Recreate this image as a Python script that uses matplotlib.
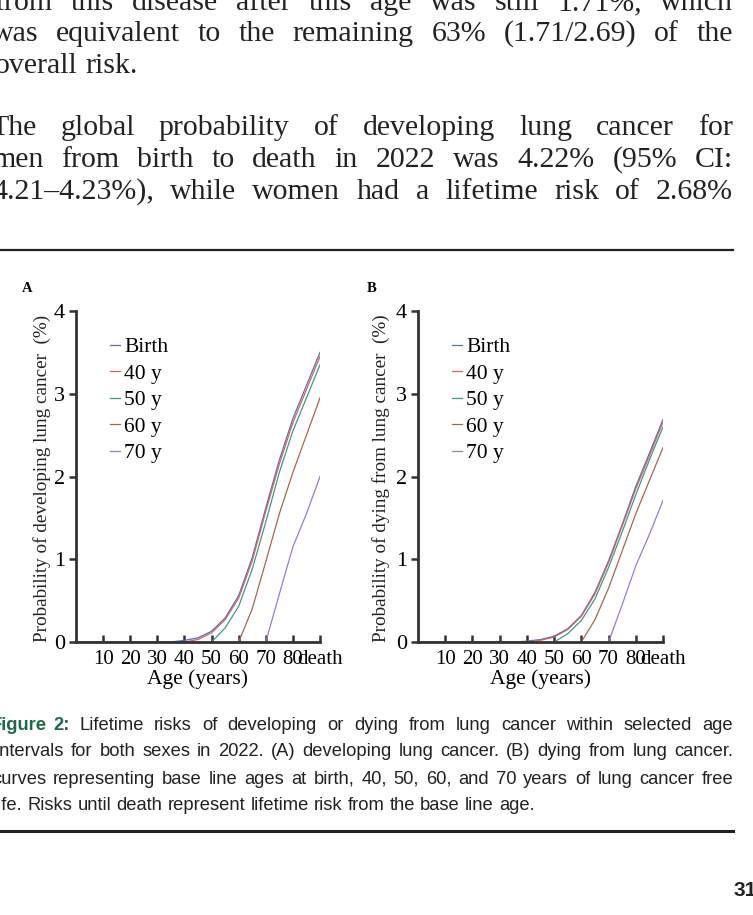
import matplotlib
matplotlib.use("Agg")
import matplotlib.pyplot as plt
from matplotlib.lines import Line2D
from matplotlib.transforms import ScaledTranslation

W, H = 753, 915
ages = [0, 10, 20, 30, 35, 40, 45, 50, 55, 60, 65, 70, 75, 80, 85, 90]
xtick_pos = [10, 20, 30, 40, 50, 60, 70, 80, 90]
xtick_labels = ["10", "20", "30", "40", "50", "60", "70", "80", "death"]
series_names = ["Birth", "40 y", "50 y", "60 y", "70 y"]
colors = ["#5b6fa8", "#d0646a", "#3f9a84", "#a8684a", "#9b7cc8"]
start_ages = [0, 40, 50, 60, 70]

dev_birth = [0, 0, 0, 0, 0.0, 0.02, 0.05, 0.13, 0.29, 0.56, 1.02, 1.62, 2.2, 2.7, 3.1, 3.5]
dev_40 = [0.0, 0.03, 0.11, 0.27, 0.53, 0.98, 1.58, 2.15, 2.65, 3.05, 3.45]
dev_50 = [0.0, 0.17, 0.43, 0.88, 1.45, 2.05, 2.55, 2.95, 3.35]
dev_60 = [0.0, 0.4, 0.97, 1.55, 2.05, 2.5, 2.95]
dev_70 = [0.0, 0.58, 1.15, 1.55, 2.0]
die_birth = [0, 0, 0, 0, 0.0, 0.01, 0.03, 0.07, 0.16, 0.32, 0.6, 0.98, 1.42, 1.88, 2.28, 2.69]
die_40 = [0.0, 0.02, 0.06, 0.15, 0.31, 0.58, 0.96, 1.4, 1.85, 2.25, 2.66]
die_50 = [0.0, 0.1, 0.26, 0.52, 0.9, 1.33, 1.78, 2.2, 2.6]
die_60 = [0.0, 0.27, 0.65, 1.1, 1.55, 1.95, 2.35]
die_70 = [0.0, 0.45, 0.92, 1.3, 1.71]

body_lines = [
    ("from this disease after this age was still 1.71%, which", -6, 3, True),
    ("was equivalent to the remaining 63% (1.71/2.69) of the", -8, 34, True),
    ("overall risk.", -5, 66, False),
    ("The global probability of developing lung cancer for", -10, 128, True),
    ("men from birth to death in 2022 was 4.22% (95% CI:", -8, 160, True),
    ("4.21\u20134.23%), while women had a lifetime risk of 2.68%", -8, 192, True),
]
caption_lines = [
    ("Figure 2: Lifetime risks of developing or dying from lung cancer within selected age", -9, 725, True),
    ("intervals for both sexes in 2022. (A) developing lung cancer. (B) dying from lung cancer.", -4, 752, True),
    ("curves representing base line ages at birth, 40, 50, 60, and 70 years of lung cancer free", -8, 779, True),
    ("life. Risks until death represent lifetime risk from the base line age.", -6, 806, False),
]

fig = plt.figure(figsize=(W / 100, H / 100), dpi=100)
fig.canvas.draw()
renderer = fig.canvas.get_renderer()
RIGHT = 733

def justify(text, x0, y, justify_on, **kw):
    words = text.split(" ")
    artists = [fig.text(0, 1 - y / H, w, va="center", ha="left", **kw) for w in words]
    widths = [a.get_window_extent(renderer).width for a in artists]
    t1 = fig.text(0, 0, "a a", **kw)
    t2 = fig.text(0, 0, "aa", **kw)
    sw = t1.get_window_extent(renderer).width - t2.get_window_extent(renderer).width
    t1.remove(); t2.remove()
    if justify_on and len(words) > 1:
        gap = (RIGHT - x0 - sum(widths)) / (len(words) - 1)
    else:
        gap = sw
    x = x0
    for a, w in zip(artists, widths):
        a.set_x(x / W)
        x += w + gap
    return artists

for txt, x0, y, j in body_lines:
    justify(txt, x0, y, j, family="Liberation Serif", fontsize=21.5, color="#222222")

cap_kw = dict(family=["Liberation Sans Narrow", "Liberation Sans", "DejaVu Sans"], fontsize=13.2, color="#222222")
for i, (txt, x0, y, j) in enumerate(caption_lines):
    arts = justify(txt, x0, y, j, **cap_kw)
    if i == 0:
        for a in arts[:2]:
            a.set_color("#1b6b48")
            a.set_fontweight("bold")

fig.add_artist(Line2D([0, RIGHT / W], [1 - 250 / H] * 2, color="#222222", lw=1.6))
fig.add_artist(Line2D([0, RIGHT / W], [1 - 831 / H] * 2, color="#222222", lw=2.2))
fig.text(733 / W, 1 - 890 / H, "310", family=["Liberation Sans Narrow", "Liberation Sans"],
         fontsize=15, fontweight="bold", va="center", ha="left", color="#222222")

def make_ax(left, right, letter, lx, ylabel, ylx, data):
    top, bottom = 311, 642
    ax = fig.add_axes([left / W, 1 - bottom / H, (right - left) / W, (bottom - top) / H])
    for name, col, st, vals in zip(series_names, colors, start_ages, data):
        xs = ages if st == 0 else [a for a in ages if a >= st]
        ax.plot(xs, vals, color=col, lw=0.9, label=name)
    ax.set_xlim(0, 90)
    ax.set_ylim(0, 4)
    for s in ["top", "right"]:
        ax.spines[s].set_visible(False)
    for s in ["left", "bottom"]:
        ax.spines[s].set_linewidth(2)
        ax.spines[s].set_color("#333333")
    ax.set_xticks(xtick_pos)
    ax.set_xticklabels(xtick_labels, family="Liberation Serif", fontsize=15)
    lab = ax.get_xticklabels()[-1]
    lab.set_transform(lab.get_transform() + ScaledTranslation(0.09, 0, fig.dpi_scale_trans))
    ax.set_yticks([0, 1, 2, 3, 4])
    ax.set_yticklabels(["0", "1", "2", "3", "4"], family="Liberation Serif", fontsize=16)
    ax.tick_params(axis="x", direction="in", length=5, width=1.8, color="#333333", pad=6)
    ax.tick_params(axis="y", direction="out", length=5, width=1.8, color="#333333", pad=3)
    ax.set_xlabel("Age (years)", family="Liberation Serif", fontsize=15.5, labelpad=0)
    fig.text(ylx / W, 1 - 478 / H, ylabel, rotation=90, family="Liberation Serif", fontsize=13.8,
             va="center", ha="center", color="#222222")
    fig.text(lx / W, 1 - 288 / H, letter, family="Liberation Serif", fontsize=10.5,
             fontweight="bold", va="center", ha="left")
    ax.legend(loc="upper left", bbox_to_anchor=(0.06, 0.98), frameon=False,
              handlelength=0.45, handletextpad=0.2, labelspacing=0.3,
              prop={"family": "Liberation Serif", "size": 15.5})
    return ax

make_ax(76, 320, "A", 22, "Probability of developing lung cancer  (%)", 42,
        [dev_birth, dev_40, dev_50, dev_60, dev_70])
make_ax(418, 663, "B", 367, "Probability of dying from lung cancer  (%)", 381,
        [die_birth, die_40, die_50, die_60, die_70])

fig.savefig("out.png", dpi=100)
